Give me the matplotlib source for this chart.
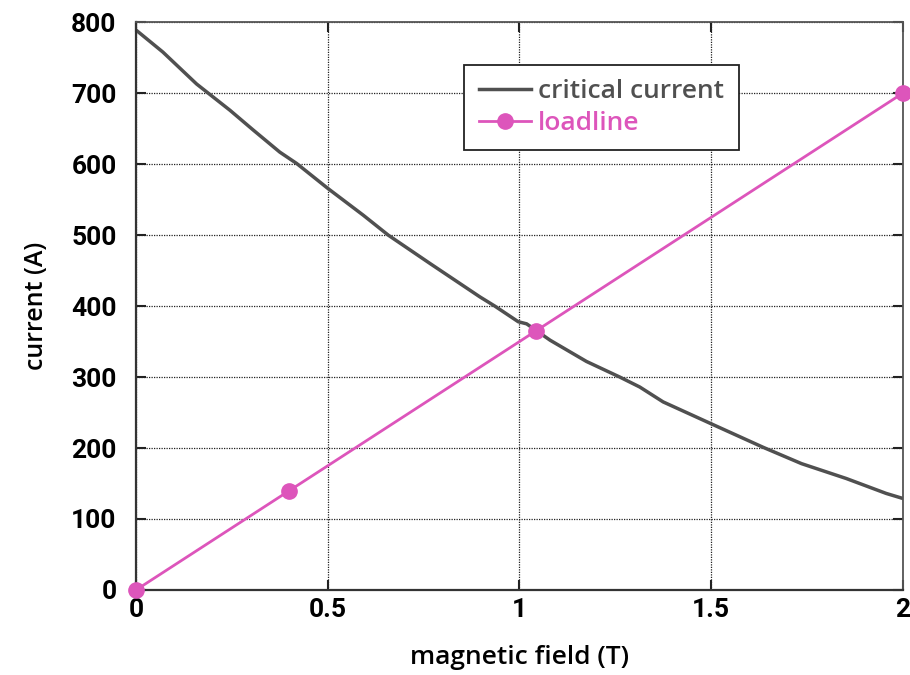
import matplotlib
matplotlib.use('Agg')
import matplotlib.pyplot as plt

# critical current curve
field_ic = [0, 0.07, 0.158, 0.245, 0.306, 0.375, 0.419, 0.50, 0.593, 0.658,
            0.767, 0.897, 0.936, 0.997, 1.019, 1.08, 1.175, 1.262, 1.314,
            1.375, 1.497, 1.636, 1.736, 1.853, 1.957, 2.0]
current_ic = [789, 758, 713, 676, 648, 617, 601, 566, 528, 500,
              460, 413, 400, 378, 375, 352, 322, 300, 286,
              265, 235, 201, 178, 157, 136, 129]

# loadline points
field_load = [0, 0.4, 1.043, 2.0]
current_load = [0, 140, 365, 700]

xticks = [0, 0.5, 1, 1.5, 2]
xtick_labels = ['0', '0.5', '1', '1.5', '2']
yticks = [0, 100, 200, 300, 400, 500, 600, 700, 800]

gray = '#505050'
pink = '#dd55bb'

plt.rcParams['font.family'] = ['Open Sans', 'Noto Sans', 'DejaVu Sans']

fig = plt.figure(figsize=(9.1, 6.75), dpi=100)
ax = fig.add_axes([0.1495, 0.126, 0.8425, 0.841])

ax.plot(field_ic, current_ic, color=gray, lw=2.5, label='critical current')
ax.plot(field_load, current_load, color=pink, lw=2, marker='o', ms=11,
        label='loadline', clip_on=False, zorder=5)

ax.set_xlim(0, 2)
ax.set_ylim(0, 800)
ax.set_xticks(xticks)
ax.set_xticklabels(xtick_labels)
ax.set_yticks(yticks)

ax.grid(True, linestyle=(0, (1, 1)), color='#222222', lw=0.9)
ax.tick_params(direction='in', top=True, right=True, length=7, width=1.5,
               labelsize=19, colors='#222222')
ax.tick_params(axis='y', pad=14)
ax.tick_params(axis='x', pad=6)
for lab in ax.get_xticklabels() + ax.get_yticklabels():
    lab.set_family(['Roboto', 'DejaVu Sans'])
    lab.set_fontweight('bold')
    lab.set_color('black')

for side in ['left', 'bottom']:
    ax.spines[side].set_color('#333333')
    ax.spines[side].set_linewidth(1.6)
for side in ['top', 'right']:
    ax.spines[side].set_color('#555555')
    ax.spines[side].set_linewidth(1.3)

ax.set_xlabel('magnetic field (T)', fontsize=19, fontweight='semibold', labelpad=16)
ax.set_ylabel('current (A)', fontsize=18, fontweight='semibold', labelpad=16)

leg = ax.legend(loc='upper left', bbox_to_anchor=(0.428, 0.925),
                prop={'size': 19, 'weight': 'semibold'},
                fancybox=False, framealpha=1, edgecolor='#222222',
                handlelength=2.0, handletextpad=0.25, borderpad=0.55,
                labelspacing=0.25, borderaxespad=0)
leg.get_frame().set_linewidth(1.3)
for txt, col in zip(leg.get_texts(), [gray, pink]):
    txt.set_color(col)

fig.savefig('out.png', dpi=100)
